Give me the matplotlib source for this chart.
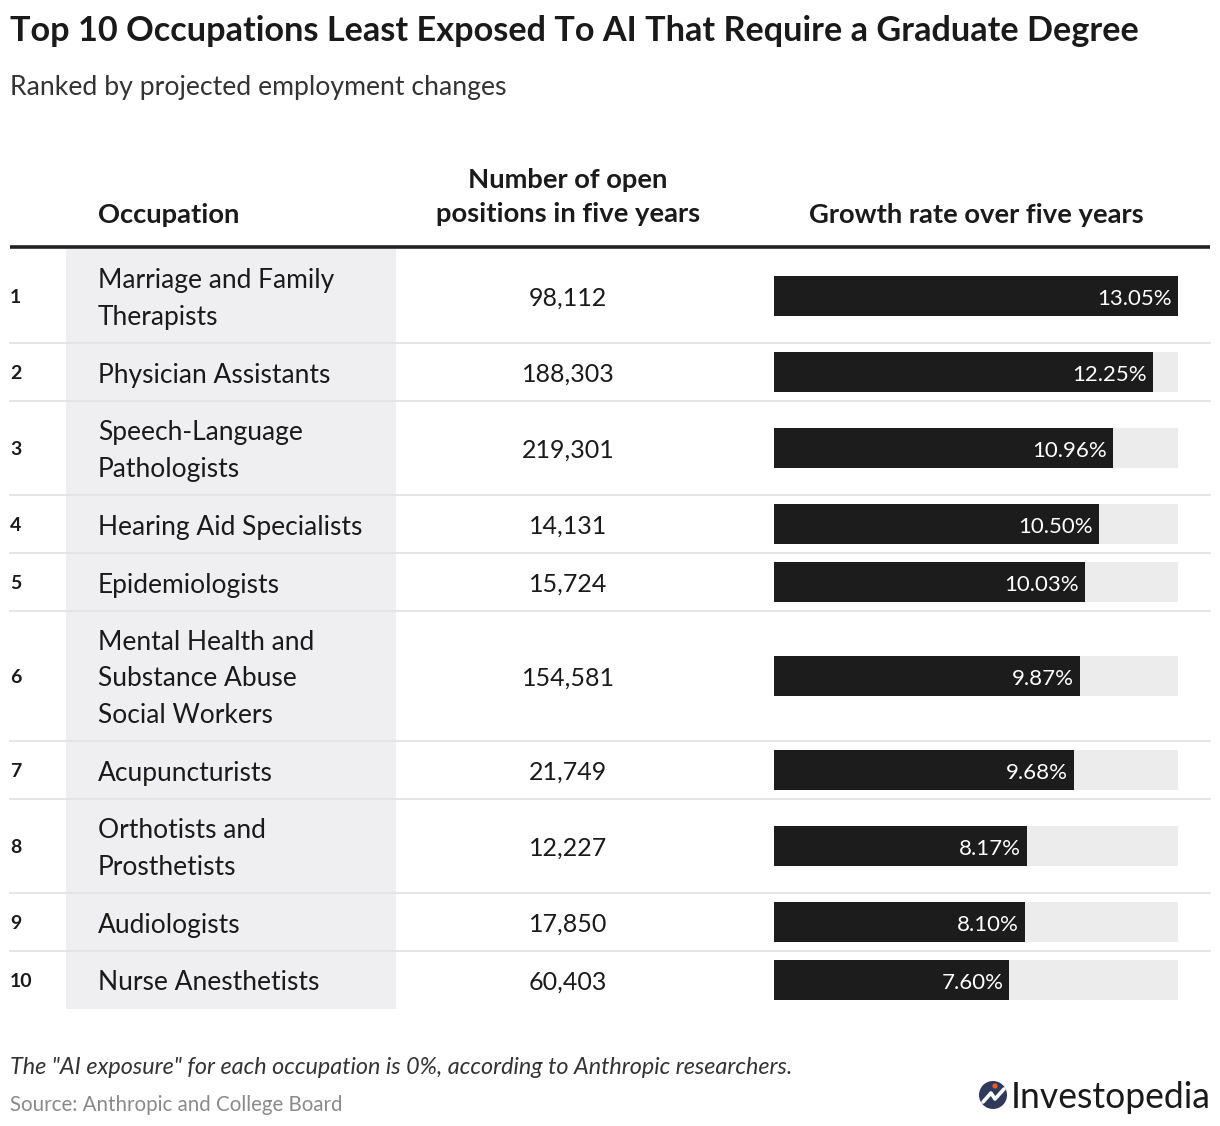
import matplotlib
matplotlib.use("Agg")
import matplotlib.pyplot as plt
from matplotlib.patches import Rectangle, Circle

ranks = ["1", "2", "3", "4", "5", "6", "7", "8", "9", "10"]
occupations = [
    "Marriage and Family\nTherapists",
    "Physician Assistants",
    "Speech-Language\nPathologists",
    "Hearing Aid Specialists",
    "Epidemiologists",
    "Mental Health and\nSubstance Abuse\nSocial Workers",
    "Acupuncturists",
    "Orthotists and\nProsthetists",
    "Audiologists",
    "Nurse Anesthetists",
]
open_positions = [98112, 188303, 219301, 14131, 15724, 154581, 21749, 12227, 17850, 60403]
growth_rates = [13.05, 12.25, 10.96, 10.50, 10.03, 9.87, 9.68, 8.17, 8.10, 7.60]

title = "Top 10 Occupations Least Exposed To AI That Require a Graduate Degree"
subtitle = "Ranked by projected employment changes"
col_headers = ["Occupation", "Number of open\npositions in five years", "Growth rate over five years"]
note = 'The "AI exposure" for each occupation is 0%, according to Anthropic researchers.'
source = "Source: Anthropic and College Board"

FONT = "Lato"
W, H = 1220, 1126
fig = plt.figure(figsize=(W / 100, H / 100), dpi=100)
ax = fig.add_axes([0, 0, 1, 1])
ax.set_xlim(0, W)
ax.set_ylim(H, 0)
ax.axis("off")

TXT = "#1a1a1a"
# title/subtitle
ax.text(10, 31, title, fontsize=24.7, fontweight="bold", family=FONT, color=TXT, va="center", ha="left")
ax.text(10, 87, subtitle, fontsize=19.2, family=FONT, color="#333333", va="center", ha="left")

# headers
HFS = 19.7
ax.text(98, 215, col_headers[0], fontsize=HFS, fontweight="bold", family=FONT, color=TXT, va="center")
ax.text(568, 197.5, col_headers[1], fontsize=HFS, fontweight="bold", family=FONT, color=TXT,
        va="center", ha="center", linespacing=1.5)
ax.text(976, 215, col_headers[2], fontsize=HFS, fontweight="bold", family=FONT, color=TXT, va="center", ha="center")
ax.plot([10, 1210], [246.5, 246.5], color="#222222", lw=2.6, solid_capstyle="butt")

# row layout
top = 249
line_h = 36
base_h = 58
bounds = []
y = top
for occ in occupations:
    n = occ.count("\n") + 1
    h = base_h + (n - 1) * line_h
    bounds.append((y, y + h))
    y += h
bottom = y

ax.add_patch(Rectangle((66, top), 330, bottom - top, facecolor="#efeff1", edgecolor="none", zorder=0))

for i, (y0, y1) in enumerate(bounds):
    yc = (y0 + y1) / 2
    if i < len(bounds) - 1:
        ax.plot([10, 1210], [y1, y1], color="#e3e3e3", lw=1.3, zorder=1)
    ax.text(10, yc + 1.5, ranks[i], fontsize=14, fontweight="bold", family=FONT, color=TXT, va="center")
    ax.text(98, yc + 3, occupations[i], fontsize=19, family=FONT, color=TXT, va="center", linespacing=1.56)
    ax.text(568, yc + 2, f"{open_positions[i]:,}", fontsize=18, family=FONT, color=TXT, va="center", ha="center")

# bars
bx0, bx1 = 774, 1178
bax = fig.add_axes([bx0 / W, 1 - bottom / H, (bx1 - bx0) / W, (bottom - top) / H])
gmax = max(growth_rates)
bax.set_xlim(0, gmax)
bax.set_ylim(bottom, top)
bax.axis("off")
centers = [(a + b) / 2 for a, b in bounds]
bax.barh(centers, [gmax] * len(centers), height=40, color="#ececec", edgecolor="none")
bax.barh(centers, growth_rates, height=40, color="#1c1c1c", edgecolor="none")
pad = gmax * 6 / (bx1 - bx0)
for c, g in zip(centers, growth_rates):
    bax.text(g - pad, c + 3, f"{g:.2f}%", fontsize=16, family=FONT, color="white", va="center", ha="right")

# footer
ax.text(10, 1067, note, fontsize=16.8, family=FONT, style="italic", color="#333333", va="center")
ax.text(10, 1105, source, fontsize=14.8, family=FONT, color="#8a8a8a", va="center")

# logo
ax.add_patch(Circle((993, 1095), 14, facecolor="#2f3a5a", edgecolor="none"))
ax.plot([983, 991, 995, 1004], [1102, 1093, 1099, 1089], color="white", lw=2.6, solid_capstyle="round")
ax.add_patch(Circle((995, 1086), 2.6, facecolor="#f15a24", edgecolor="none"))
ax.text(1011, 1098, "Investopedia", fontsize=25.6, family=FONT, color="#1a1a1a", va="center", ha="left")

fig.savefig("out.png", dpi=100)
